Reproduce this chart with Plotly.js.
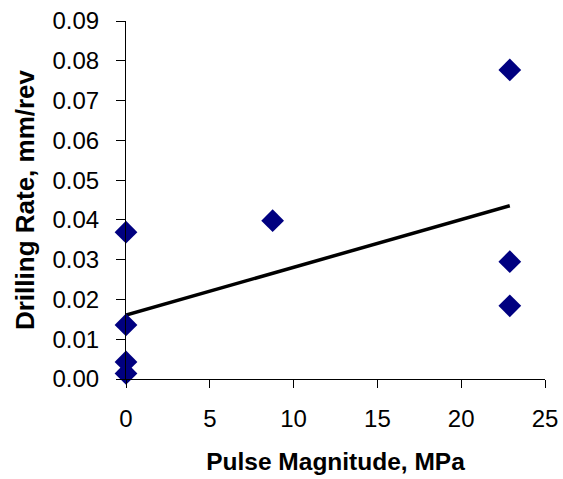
<!DOCTYPE html>
<html><head><meta charset="utf-8">
<script src="https://cdn.plot.ly/plotly-3.0.1.min.js"></script>
<style>html,body{margin:0;padding:0;background:#fff}#chart{width:563px;height:479px}</style>
</head><body><div id="chart"></div>
<script>
const pulseMagnitude = [0, 0, 0, 0, 8.75, 22.9, 22.9, 22.9];
const drillingRate = [0.0369, 0.0136, 0.0043, 0.0014, 0.0398, 0.0777, 0.0295, 0.0184];
const xTicks = [0, 5, 10, 15, 20, 25];
const yTicks = [0, 0.01, 0.02, 0.03, 0.04, 0.05, 0.06, 0.07, 0.08, 0.09];

// linear least-squares trendline from the data
const n = pulseMagnitude.length;
const mx = pulseMagnitude.reduce((a,b)=>a+b,0)/n;
const my = drillingRate.reduce((a,b)=>a+b,0)/n;
let sxy=0, sxx=0;
for (let i=0;i<n;i++){ sxy+=(pulseMagnitude[i]-mx)*(drillingRate[i]-my); sxx+=(pulseMagnitude[i]-mx)**2; }
const slope = sxy/sxx, intercept = my - slope*mx;
const xMin = Math.min(...pulseMagnitude), xMax = Math.max(...pulseMagnitude);
const trendX = [xMin, xMax];
const trendY = trendX.map(x => intercept + slope*x);

const font = "'Liberation Sans', Arial, sans-serif";
const data = [
  {x: trendX, y: trendY, mode: 'lines', line: {color: '#000000', width: 3.5}, hoverinfo: 'skip', cliponaxis: false},
  {x: pulseMagnitude, y: drillingRate, mode: 'markers', cliponaxis: false,
   marker: {symbol: 'diamond', size: 17.5, color: '#000080', line: {width: 0}}}
];
const layout = {
  width: 563, height: 479,
  margin: {l: 126, r: 18, t: 21, b: 100},
  paper_bgcolor: '#ffffff', plot_bgcolor: '#ffffff',
  showlegend: false,
  font: {family: font, color: '#000000', size: 24},
  xaxis: {
    range: [0, 25], tickvals: xTicks, ticktext: xTicks.map(String),
    showgrid: false, zeroline: false, showline: true, linecolor: '#000', linewidth: 1,
    ticks: 'outside', ticklen: 8, tickcolor: '#000', tickwidth: 1,
    tickfont: {family: font, size: 24}, ticklabelstandoff: 10,
    title: {text: '<b>Pulse Magnitude, MPa</b>', font: {family: font, size: 24.5}, standoff: 22}
  },
  yaxis: {
    range: [0, 0.09], tickvals: yTicks, ticktext: yTicks.map(v => v.toFixed(2)),
    showgrid: false, zeroline: false, showline: true, linecolor: '#000', linewidth: 1,
    ticks: 'outside', ticklen: 9, tickcolor: '#000', tickwidth: 1,
    tickfont: {family: font, size: 24}, ticklabelstandoff: 12,
    title: {text: '<b>Drilling Rate, mm/rev</b>', font: {family: font, size: 26}, standoff: 10}
  }
};
Plotly.newPlot('chart', data, layout, {displayModeBar: false, staticPlot: true});
</script>
</body></html>
